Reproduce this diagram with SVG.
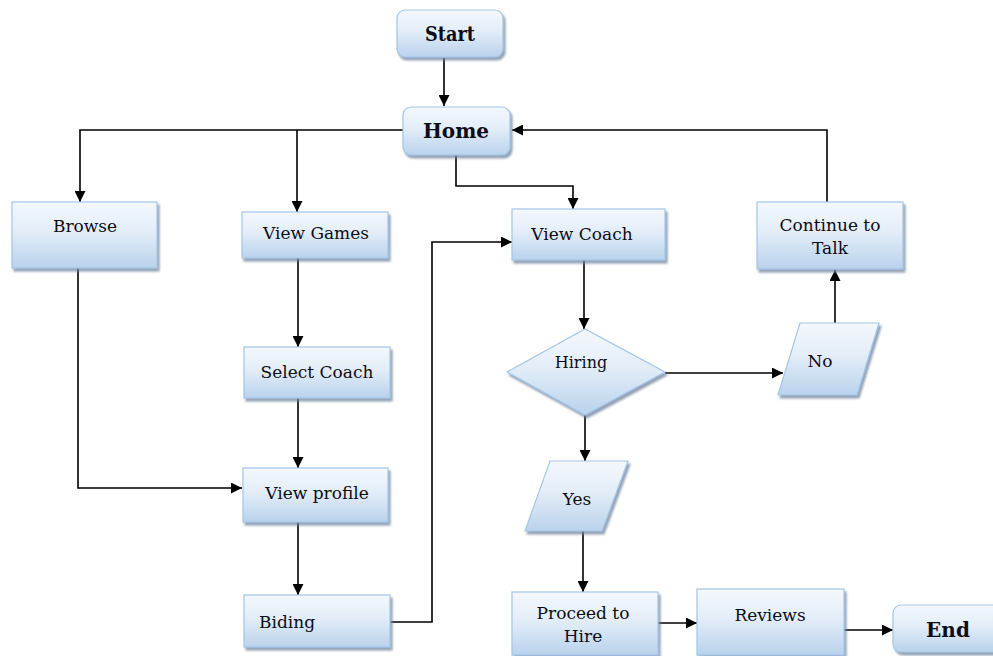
<svg xmlns="http://www.w3.org/2000/svg" width="993" height="656" viewBox="0 0 993 656">
  <style>
    .box { fill: url(#boxFill); stroke: #a3c6ea; stroke-width: 1.2; filter: url(#shadow); }
    .lbl { font-family: "DejaVu Serif", "Liberation Serif", serif; font-size: 17px; fill: #0d0d14; text-anchor: middle; }
    .big { font-size: 20px; font-weight: bold; }
    .wire { fill: none; stroke: #000; stroke-width: 1.6; }
    .arrow { marker-end: url(#head); }
  </style>
  <defs>
    <linearGradient id="boxFill" x1="0" y1="0" x2="0" y2="1">
      <stop offset="0" stop-color="#f4f8fd"/>
      <stop offset="0.45" stop-color="#e3edf8"/>
      <stop offset="1" stop-color="#b9d2ec"/>
    </linearGradient>
    <filter id="shadow" x="-10%" y="-10%" width="125%" height="135%">
      <feDropShadow dx="2" dy="3" stdDeviation="1" flood-color="#6f849c" flood-opacity="0.75"/>
    </filter>
    <marker id="head" viewBox="0 0 10 10" refX="10" refY="5" markerWidth="11" markerHeight="11" markerUnits="userSpaceOnUse" orient="auto">
      <path d="M0,0 L10,5 L0,10 Z" fill="#000"/>
    </marker>
  </defs>

  <!-- connectors -->
  <g id="connectors">
    <path class="wire arrow" d="M444,58 V106"/>
    <path class="wire arrow" d="M403,130 H80 V202"/>
    <path class="wire arrow" d="M297,130 V212"/>
    <path class="wire arrow" d="M456,155 V186 H573 V209"/>
    <path class="wire arrow" d="M827,202 V130 H512"/>
    <path class="wire arrow" d="M78,268 V488 H242"/>
    <path class="wire arrow" d="M298,258 V347"/>
    <path class="wire arrow" d="M298,398 V468"/>
    <path class="wire arrow" d="M298,522 V595"/>
    <path class="wire arrow" d="M390,622 H432 V242 H512"/>
    <path class="wire arrow" d="M584,260 V329"/>
    <path class="wire arrow" d="M665,373 H783"/>
    <path class="wire arrow" d="M835,323 V270"/>
    <path class="wire arrow" d="M585,415 V461"/>
    <path class="wire arrow" d="M583,531 V592"/>
    <path class="wire arrow" d="M658,623 H697"/>
    <path class="wire arrow" d="M844,630 H893"/>
  </g>

  <g id="start">
    <rect class="box" x="397" y="10" width="106" height="47" rx="8"/>
    <text class="lbl big" x="450" y="41" textLength="50" lengthAdjust="spacingAndGlyphs">Start</text>
  </g>
  <g id="home">
    <rect class="box" x="403" y="107" width="107" height="48" rx="8"/>
    <text class="lbl big" x="456" y="138">Home</text>
  </g>
  <g id="browse">
    <rect class="box" x="12" y="202" width="145" height="66"/>
    <text class="lbl" x="85" y="232">Browse</text>
  </g>
  <g id="view-games">
    <rect class="box" x="242" y="212" width="146" height="46"/>
    <text class="lbl" x="316" y="239">View Games</text>
  </g>
  <g id="select-coach">
    <rect class="box" x="244" y="347" width="146" height="51"/>
    <text class="lbl" x="317" y="378">Select Coach</text>
  </g>
  <g id="view-profile">
    <rect class="box" x="243" y="468" width="145" height="54"/>
    <text class="lbl" x="317" y="499">View profile</text>
  </g>
  <g id="biding">
    <rect class="box" x="244" y="595" width="146" height="52"/>
    <text class="lbl" x="259" y="628" style="text-anchor:start">Biding</text>
  </g>
  <g id="view-coach">
    <rect class="box" x="512" y="209" width="153" height="51"/>
    <text class="lbl" x="582" y="240">View Coach</text>
  </g>
  <g id="hiring">
    <polygon class="box" points="507,372 585,329 665,372 585,415"/>
    <text class="lbl" x="581" y="368" style="font-size:16px">Hiring</text>
  </g>
  <g id="no">
    <polygon class="box" points="800,323 879,323 857,395 778,395"/>
    <text class="lbl" x="820" y="367">No</text>
  </g>
  <g id="continue-to-talk">
    <rect class="box" x="757" y="202" width="146" height="67"/>
    <text class="lbl" x="830" y="231">Continue to</text>
    <text class="lbl" x="830" y="254">Talk</text>
  </g>
  <g id="yes">
    <polygon class="box" points="550,461 628,461 602,531 525,531"/>
    <text class="lbl" x="577" y="505">Yes</text>
  </g>
  <g id="proceed-to-hire">
    <rect class="box" x="512" y="592" width="146" height="63"/>
    <text class="lbl" x="583" y="619">Proceed to</text>
    <text class="lbl" x="583" y="642">Hire</text>
  </g>
  <g id="reviews">
    <rect class="box" x="697" y="589" width="147" height="66"/>
    <text class="lbl" x="770" y="621">Reviews</text>
  </g>
  <g id="end">
    <rect class="box" x="893" y="605" width="120" height="47" rx="8"/>
    <text class="lbl big" x="948" y="637">End</text>
  </g>
</svg>
